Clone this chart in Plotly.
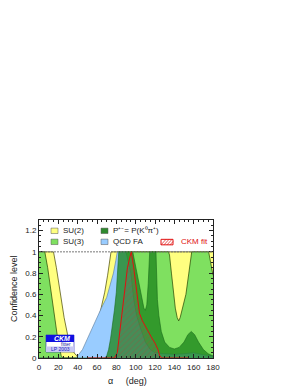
import plotly.graph_objects as go

# ---- data (alpha in degrees, confidence level) ----
su2_alpha = [0, 15, 18, 22, 26, 30, 34, 37, 40, 42, 56, 59, 62, 65, 68, 71, 73, 74.5, 180]
su2_cl = [1, 1, 0.85, 0.6, 0.38, 0.2, 0.09, 0.04, 0.01, 0, 0, 0.2, 0.38, 0.5, 0.62, 0.78, 0.9, 1, 1]

su3_alpha = [0, 6, 9, 13, 17, 20, 23, 25, 70, 75, 79, 82, 134, 135, 137, 139, 141, 143, 144.5,
             146, 148, 150, 152, 155, 157, 158, 175.5, 178, 180]
su3_cl = [1, 1, 0.85, 0.6, 0.33, 0.14, 0.02, 0, 0, 0.3, 0.7, 1, 1, 0.97, 0.8, 0.6, 0.47, 0.38, 0.35,
          0.38, 0.45, 0.52, 0.6, 0.8, 0.97, 1, 1, 0.88, 0.78]

qcd_alpha = [0, 38, 40, 45, 50, 55, 60, 65, 70, 74, 77, 79.5, 81, 90, 95, 98, 101, 105, 110, 115,
             120, 130, 140, 150, 160, 170, 180]
qcd_cl = [0, 0, 0.02, 0.08, 0.18, 0.28, 0.39, 0.48, 0.57, 0.7, 0.8, 0.92, 1, 1, 0.8, 0.55, 0.4,
          0.28, 0.15, 0.08, 0.05, 0.04, 0.035, 0.04, 0.05, 0.03, 0.02]

ppm_alpha = [0, 68, 70, 72, 74, 76, 78, 80, 81, 82.5, 97, 100, 103, 106, 108.5, 110, 111.5, 113,
             114.5, 121, 121.5, 122.5, 124, 126.5, 130, 135, 140, 145, 150, 154, 157.5, 161, 165,
             170, 175, 180]
ppm_cl = [0, 0, 0.02, 0.08, 0.18, 0.3, 0.45, 0.62, 0.8, 1, 1, 0.86, 0.7, 0.56, 0.47, 0.45, 0.5, 0.7,
          1, 1, 0.75, 0.55, 0.4, 0.25, 0.15, 0.1, 0.085, 0.1, 0.15, 0.22, 0.25, 0.22, 0.15,
          0.08, 0.04, 0.02]

ckm_alpha = [50, 78, 81, 83, 85, 87, 89, 91.5, 94, 95.5, 98, 100.5, 102, 104, 107, 111, 116, 120,
             123, 125, 127, 155]
ckm_cl = [0, 0, 0.05, 0.2, 0.37, 0.55, 0.7, 0.85, 0.95, 1, 0.85, 0.65, 0.54, 0.42, 0.35, 0.28,
          0.2, 0.14, 0.08, 0.02, 0, 0]

x_ticks = [0, 20, 40, 60, 80, 100, 120, 140, 160, 180]
y_ticks = [0, 0.2, 0.4, 0.6, 0.8, 1, 1.2]
y_ticklabels = ["0", "0.2", "0.4", "0.6", "0.8", "1", "1.2"]

FONT = "Liberation Sans, Arial, Helvetica, sans-serif"

fig = go.Figure()
fig.add_trace(go.Scatter(x=su2_alpha, y=su2_cl, fill="tozeroy", mode="lines",
                         fillcolor="#ffff80", line=dict(color="#444400", width=0.7), name="SU(2)"))
fig.add_trace(go.Scatter(x=su3_alpha, y=su3_cl, fill="tozeroy", mode="lines",
                         fillcolor="#7fe060", line=dict(color="#224400", width=0.7), name="SU(3)"))
fig.add_trace(go.Scatter(x=qcd_alpha, y=qcd_cl, fill="tozeroy", mode="lines",
                         fillcolor="#99ccff", line=dict(color="#557799", width=0.6), name="QCD FA"))
fig.add_trace(go.Scatter(x=ppm_alpha, y=ppm_cl, fill="tozeroy", mode="lines",
                         fillcolor="rgba(30,135,30,0.78)", line=dict(color="#1a6a1a", width=0.6),
                         name="P+- = P(K0pi+)"))
fig.add_trace(go.Scatter(x=ckm_alpha, y=ckm_cl, fill="tozeroy", mode="lines",
                         fillcolor="rgba(110,110,110,0.25)",
                         fillpattern=dict(shape="/", fgcolor="rgba(230,30,30,0.8)", size=4, solidity=0.15),
                         line=dict(color="#e01010", width=1), name="CKM fit"))

shapes = [
    dict(type="line", xref="x", yref="y", x0=0, x1=180, y0=1, y1=1,
         line=dict(color="#777777", width=1, dash="2px,1px"), layer="above"),
]
annotations = []


def px_to_x(px):
    return (px - 31) / 174 * 180


def py_to_y(py):
    return (350 - py) / 106


# legend (drawn manually, 3 columns)
leg = [
    (43, 50, 223, "#ffff80", "SU(2)", 53, "#222222"),
    (43, 50, 234, "#7fe060", "SU(3)", 53, "#222222"),
    (93, 100, 223, "#2f8a2f", "P⁺⁻= P(K⁰π⁺)", 103, "#222222"),
    (93, 100, 234, "#99ccff", "QCD FA", 103, "#222222"),
]
for x0, x1, yc, col, txt, tx, tc in leg:
    shapes.append(dict(type="rect", xref="x", yref="y", x0=px_to_x(x0), x1=px_to_x(x1),
                       y0=py_to_y(yc + 2.7), y1=py_to_y(yc - 2.7), fillcolor=col,
                       line=dict(color="#555555", width=0.5), layer="above"))
    annotations.append(dict(x=px_to_x(tx), y=py_to_y(yc), xref="x", yref="y", text=txt,
                            showarrow=False, xanchor="left", yanchor="middle",
                            font=dict(size=8, color=tc, family=FONT)))
# CKM fit swatch (hatched)
cx0, cx1, cy0, cy1 = 153, 165, 231.5, 237
shapes.append(dict(type="rect", xref="x", yref="y", x0=px_to_x(cx0), x1=px_to_x(cx1),
                   y0=py_to_y(cy1), y1=py_to_y(cy0), fillcolor="white",
                   line=dict(color="#e01010", width=1), layer="above"))
for k in range(0, 12, 3):
    shapes.append(dict(type="line", xref="x", yref="y",
                       x0=px_to_x(cx0 + k), y0=py_to_y(cy1), x1=px_to_x(min(cx0 + k + 5, cx1)),
                       y1=py_to_y(cy0 if cx0 + k + 5 <= cx1 else cy1 - (cx1 - cx0 - k) * 5.5 / 5),
                       line=dict(color="#e01010", width=0.7), layer="above"))
annotations.append(dict(x=px_to_x(170.5), y=py_to_y(234), xref="x", yref="y", text="CKM fit",
                        showarrow=False, xanchor="left", yanchor="middle",
                        font=dict(size=8, color="#e01010", family=FONT)))

# CKMfitter logo
shapes += [
    dict(type="rect", xref="x", yref="y", x0=px_to_x(38), x1=px_to_x(66), y0=py_to_y(344),
         y1=py_to_y(327), fillcolor="white", line=dict(color="#2020c0", width=0.6), layer="above"),
    dict(type="rect", xref="x", yref="y", x0=px_to_x(38), x1=px_to_x(66), y0=py_to_y(334),
         y1=py_to_y(327), fillcolor="#1010e0", line=dict(width=0), layer="above"),
    dict(type="rect", xref="x", yref="y", x0=px_to_x(38), x1=px_to_x(66), y0=py_to_y(344),
         y1=py_to_y(338.5), fillcolor="#c8c8f4", line=dict(width=0), layer="above"),
]
annotations += [
    dict(x=px_to_x(44), y=py_to_y(330.5), xref="x", yref="y", text="CKM",
         showarrow=False, xanchor="left", yanchor="middle",
         font=dict(size=7, color="white", family=FONT, weight="bold", style="italic")),
    dict(x=px_to_x(58), y=py_to_y(336.2), xref="x", yref="y", text="fitter",
         showarrow=False, xanchor="center", yanchor="middle",
         font=dict(size=5, color="#2020a0", family=FONT)),
    dict(x=px_to_x(52), y=py_to_y(341.3), xref="x", yref="y", text="LP 2003",
         showarrow=False, xanchor="center", yanchor="middle",
         font=dict(size=5, color="#2020c0", family=FONT)),
]

# axis titles
annotations += [
    dict(x=(119 - 31) / 174, y=(350 - 373) / 138, xref="paper", yref="paper",
         text="α     (deg)", showarrow=False, xanchor="center", yanchor="middle",
         font=dict(size=9, color="#222222", family=FONT)),
    dict(x=(6 - 31) / 174, y=0.5, xref="paper", yref="paper", text="Confidence level",
         textangle=-90, showarrow=False, xanchor="center", yanchor="middle",
         font=dict(size=9, color="#222222", family=FONT)),
]

fig.update_layout(
    width=300, height=388,
    margin=dict(l=31, r=95, t=212, b=38),
    paper_bgcolor="white", plot_bgcolor="white",
    showlegend=False,
    shapes=shapes, annotations=annotations,
    font=dict(family=FONT, size=8, color="#222222"),
)
fig.update_xaxes(range=[0, 180], tickvals=x_ticks, ticks="inside", ticklen=4, tickcolor="#222",
                 showline=True, linecolor="#222", linewidth=1, mirror="ticks", showgrid=False,
                 zeroline=False, tickfont=dict(size=8), ticklabelstandoff=1,
                 minor=dict(dtick=5, ticks="inside", ticklen=2, tickcolor="#222"))
fig.update_yaxes(range=[0, 1.3], tickvals=y_ticks, ticktext=y_ticklabels, ticks="inside", ticklen=4,
                 tickcolor="#222", showline=True, linecolor="#222", linewidth=1, mirror="ticks",
                 showgrid=False, zeroline=False, tickfont=dict(size=8),
                 minor=dict(dtick=0.05, ticks="inside", ticklen=2, tickcolor="#222"))

fig.write_html("out.html")
